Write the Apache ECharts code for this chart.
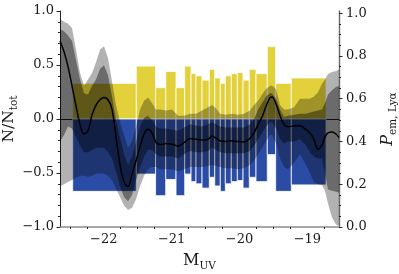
<!DOCTYPE html>
<html><head><meta charset="utf-8">
<script src="https://cdn.jsdelivr.net/npm/echarts@6/dist/echarts.min.js"></script>
<style>html,body{margin:0;padding:0;background:#fff}#c{width:399px;height:274px}</style>
</head><body><div id="c"></div>
<script>
// bin edges in M_UV
const binEdges = [-22.457, -21.520, -21.236, -21.087, -20.935, -20.807, -20.714, -20.641, -20.552, -20.445, -20.365, -20.283, -20.209, -20.121, -20.032, -19.948, -19.856, -19.757, -19.591, -19.468, -19.237, -18.726];
// positive (yellow) fractions and negative (blue) fractions, left axis
const fracYellow = [0.33, 0.49, 0.29, 0.44, 0.29, 0.49, 0.42, 0.40, 0.36, 0.46, 0.38, 0.33, 0.40, 0.42, 0.43, 0.36, 0.46, 0.42, 0.67, 0.33, 0.38];
const fracBlue = [-0.67, -0.51, -0.71, -0.56, -0.71, -0.51, -0.58, -0.60, -0.64, -0.54, -0.62, -0.67, -0.60, -0.58, -0.57, -0.64, -0.54, -0.58, -0.33, -0.67, -0.61];
// curve sampling in M_UV
const curveM = [-22.644, -22.585, -22.526, -22.467, -22.408, -22.349, -22.290, -22.231, -22.172, -22.113, -22.054, -21.996, -21.937, -21.878, -21.819, -21.760, -21.701, -21.642, -21.583, -21.524, -21.465, -21.406, -21.348, -21.289, -21.230, -21.171, -21.082, -20.993, -20.905, -20.817, -20.729, -20.640, -20.552, -20.464, -20.405, -20.346, -20.287, -20.199, -20.110, -20.022, -19.934, -19.846, -19.786, -19.727, -19.668, -19.609, -19.550, -19.521, -19.462, -19.403, -19.344, -19.285, -19.197, -19.109, -19.021, -18.962, -18.903, -18.844, -18.785, -18.741, -18.697, -18.638, -18.579, -18.535];
const pMedian = [0.87, 0.82, 0.75, 0.66, 0.565, 0.48, 0.435, 0.45, 0.525, 0.57, 0.595, 0.605, 0.595, 0.55, 0.42, 0.29, 0.21, 0.19, 0.245, 0.31, 0.375, 0.435, 0.457, 0.44, 0.395, 0.385, 0.39, 0.387, 0.378, 0.395, 0.414, 0.41, 0.407, 0.41, 0.426, 0.415, 0.403, 0.40, 0.403, 0.40, 0.398, 0.415, 0.44, 0.48, 0.515, 0.565, 0.605, 0.608, 0.575, 0.52, 0.48, 0.469, 0.472, 0.473, 0.455, 0.44, 0.41, 0.362, 0.385, 0.42, 0.44, 0.444, 0.435, 0.418];
const pOuterHi = [0.972, 0.96, 0.95, 0.93, 0.83, 0.72, 0.66, 0.69, 0.72, 0.77, 0.83, 0.845, 0.79, 0.68, 0.57, 0.49, 0.43, 0.37, 0.40, 0.47, 0.55, 0.59, 0.605, 0.58, 0.55, 0.55, 0.545, 0.55, 0.52, 0.52, 0.53, 0.53, 0.545, 0.56, 0.57, 0.555, 0.53, 0.525, 0.53, 0.525, 0.53, 0.545, 0.57, 0.59, 0.62, 0.645, 0.66, 0.66, 0.645, 0.57, 0.55, 0.55, 0.56, 0.60, 0.60, 0.60, 0.61, 0.63, 0.67, 0.69, 0.715, 0.725, 0.73, 0.735];
const pInnerHi = [0.926, 0.915, 0.895, 0.87, 0.78, 0.69, 0.625, 0.62, 0.66, 0.69, 0.74, 0.756, 0.71, 0.61, 0.50, 0.42, 0.34, 0.29, 0.33, 0.40, 0.47, 0.51, 0.52, 0.50, 0.47, 0.46, 0.46, 0.455, 0.45, 0.465, 0.48, 0.475, 0.47, 0.48, 0.49, 0.48, 0.47, 0.465, 0.465, 0.465, 0.465, 0.48, 0.505, 0.55, 0.58, 0.61, 0.625, 0.625, 0.60, 0.55, 0.515, 0.52, 0.525, 0.53, 0.53, 0.535, 0.54, 0.545, 0.55, 0.58, 0.62, 0.64, 0.655, 0.66];
const pInnerLo = [0.40, 0.43, 0.47, 0.46, 0.42, 0.38, 0.35, 0.35, 0.36, 0.37, 0.37, 0.37, 0.35, 0.32, 0.26, 0.19, 0.14, 0.12, 0.15, 0.22, 0.28, 0.33, 0.36, 0.36, 0.34, 0.33, 0.33, 0.33, 0.32, 0.34, 0.355, 0.35, 0.35, 0.355, 0.37, 0.36, 0.35, 0.345, 0.345, 0.345, 0.345, 0.355, 0.38, 0.41, 0.44, 0.47, 0.49, 0.49, 0.46, 0.41, 0.39, 0.40, 0.40, 0.41, 0.38, 0.35, 0.33, 0.32, 0.32, 0.25, 0.175, 0.17, 0.165, 0.16];
const pOuterLo = [0.19, 0.20, 0.21, 0.22, 0.23, 0.24, 0.24, 0.235, 0.24, 0.25, 0.25, 0.25, 0.24, 0.22, 0.18, 0.14, 0.10, 0.08, 0.09, 0.13, 0.19, 0.24, 0.27, 0.28, 0.28, 0.27, 0.27, 0.27, 0.26, 0.27, 0.28, 0.28, 0.28, 0.285, 0.29, 0.285, 0.28, 0.275, 0.275, 0.27, 0.275, 0.29, 0.31, 0.34, 0.37, 0.40, 0.43, 0.43, 0.39, 0.32, 0.28, 0.27, 0.30, 0.34, 0.29, 0.25, 0.21, 0.20, 0.195, 0.17, 0.11, 0.045, 0.012, 0.005];
// ticks
const xMajorTicks = [-22, -21, -20, -19];
const xMinorTicks = [-22.5, -22.25, -21.75, -21.5, -21.25, -20.75, -20.5, -20.25, -19.75, -19.5, -19.25, -18.75];
const yRightTicks = [0, 0.2, 0.4, 0.6, 0.8, 1.0];
const yRightMinor = [0.05, 0.1, 0.15, 0.25, 0.3, 0.35, 0.45, 0.5, 0.55, 0.65, 0.7, 0.75, 0.85, 0.9, 0.95];

const FONT = 'DejaVu Serif';
const DARK = '#262626';
const fmt1 = v => (v < 0 ? '\u2212' : '') + Math.abs(v).toFixed(1);
const fmt0 = v => (v < 0 ? '\u2212' : '') + Math.abs(v).toFixed(0);
const XMIN = -22.644, XMAX = -18.535;

function barSeries(vals, color) {
  return {
    type: 'custom', xAxisIndex: 0, yAxisIndex: 0, clip: true, silent: true, z: 1,
    encode: { x: [0, 1], y: 2 },
    data: vals.map((v, i) => [binEdges[i], binEdges[i + 1], v]),
    renderItem: (params, api) => {
      const a = api.coord([api.value(0), 0]);
      const b = api.coord([api.value(1), api.value(2)]);
      return { type: 'rect',
        shape: { x: a[0], y: Math.min(a[1], b[1]), width: b[0] - a[0], height: Math.abs(b[1] - a[1]) },
        style: { fill: color, stroke: '#ffffff', lineWidth: 0.8 } };
    }
  };
}
function bandSeries(lo, hi, alpha, z) {
  return {
    type: 'custom', xAxisIndex: 0, yAxisIndex: 1, clip: true, silent: true, z: z,
    data: [[curveM[20], lo[20]]],
    renderItem: (params, api) => {
      const pts = [];
      for (let i = 0; i < curveM.length; i++) pts.push(api.coord([curveM[i], hi[i]]));
      for (let i = curveM.length - 1; i >= 0; i--) pts.push(api.coord([curveM[i], lo[i]]));
      return { type: 'polygon', shape: { points: pts }, style: { fill: 'rgba(0,0,0,' + alpha + ')' } };
    }
  };
}

const chart = echarts.init(document.getElementById('c'), null, { renderer: 'canvas' });
chart.setOption({
  animation: false,
  backgroundColor: '#ffffff',
  grid: { left: 60, top: 11, width: 279, height: 216, containLabel: false, outerBoundsMode: 'none' },
  xAxis: [
    { type: 'value', min: XMIN, max: XMAX, position: 'bottom',
      axisLine: { show: true, lineStyle: { color: DARK, width: 1 } },
      axisTick: { show: true, customValues: xMajorTicks, length: 3.5, lineStyle: { color: DARK } },
      axisLabel: { customValues: xMajorTicks, formatter: fmt0, fontFamily: FONT, fontSize: 13, color: '#1a1a1a', margin: 6 },
      splitLine: { show: false },
      name: '{m|M}{s|UV}', nameLocation: 'middle', nameGap: 23, nameMoveOverlap: false,
      nameTextStyle: { color: '#1a1a1a', fontFamily: FONT, rich: {
        m: { fontFamily: FONT, fontSize: 16, lineHeight: 22, color: '#1a1a1a' },
        s: { fontFamily: FONT, fontSize: 10.5, lineHeight: 10, verticalAlign: 'bottom', color: '#1a1a1a' } } } },
    { type: 'value', min: XMIN, max: XMAX, position: 'bottom',
      axisLine: { show: false },
      axisTick: { show: true, customValues: xMinorTicks, length: 2, lineStyle: { color: DARK } },
      axisLabel: { show: false }, splitLine: { show: false } },
    { type: 'value', min: XMIN, max: XMAX, position: 'top',
      axisLine: { show: true, lineStyle: { color: '#8c8c8c', width: 1.6 } },
      axisTick: { show: false }, axisLabel: { show: false }, splitLine: { show: false } }
  ],
  yAxis: [
    { type: 'value', min: -1, max: 1, interval: 0.5, position: 'left',
      axisLine: { show: true, lineStyle: { color: DARK, width: 1 } },
      axisTick: { show: true, length: 3.5, lineStyle: { color: DARK } },
      minorTick: { show: true, splitNumber: 5, length: 2, lineStyle: { color: DARK } },
      axisLabel: { formatter: fmt1, fontFamily: FONT, fontSize: 13, color: '#1a1a1a', margin: 6 },
      splitLine: { show: false },
      name: '{n|N/N}{s|tot}', nameLocation: 'middle', nameRotate: 90, nameGap: 40, nameMoveOverlap: false,
      nameTextStyle: { color: '#1a1a1a', fontFamily: FONT, rich: {
        n: { fontFamily: FONT, fontSize: 15.5, lineHeight: 22, color: '#1a1a1a' },
        s: { fontFamily: FONT, fontSize: 10.5, lineHeight: 10, verticalAlign: 'bottom', color: '#1a1a1a' } } } },
    { type: 'value', min: 0, max: 1.01, position: 'right',
      axisLine: { show: true, lineStyle: { color: '#6a6a6a', width: 1.4 } },
      axisTick: { show: true, customValues: yRightTicks, length: 3.5, lineStyle: { color: DARK } },
      axisLabel: { customValues: yRightTicks, formatter: fmt1, fontFamily: FONT, fontSize: 13, color: '#1a1a1a', margin: 7 },
      splitLine: { show: false },
      name: '{p|P}{s|em, Ly\u03b1}', nameLocation: 'middle', nameRotate: 90, nameGap: 38, nameMoveOverlap: false,
      nameTextStyle: { color: '#1a1a1a', fontFamily: FONT, rich: {
        p: { fontFamily: FONT, fontStyle: 'italic', fontSize: 16, lineHeight: 22, color: '#1a1a1a' },
        s: { fontFamily: FONT, fontSize: 10.5, lineHeight: 10, verticalAlign: 'bottom', color: '#1a1a1a' } } } },
    { type: 'value', min: 0, max: 1.01, position: 'right',
      axisLine: { show: false },
      axisTick: { show: true, customValues: yRightMinor, length: 2, lineStyle: { color: DARK } },
      axisLabel: { show: false }, splitLine: { show: false } }
  ],
  series: [
    barSeries(fracYellow, '#e3d13b'),
    barSeries(fracBlue, '#2b4ca4'),
    bandSeries(pOuterLo, pOuterHi, 0.3, 3),
    bandSeries(pInnerLo, pInnerHi, 0.4, 4),
    { type: 'line', xAxisIndex: 0, yAxisIndex: 1, z: 5, smooth: 0.35, showSymbol: false, symbol: 'none', clip: true, silent: true,
      lineStyle: { color: '#000000', width: 1.5 },
      data: curveM.map((m, i) => [m, pMedian[i]]) }
  ]
});
</script>
</body></html>
